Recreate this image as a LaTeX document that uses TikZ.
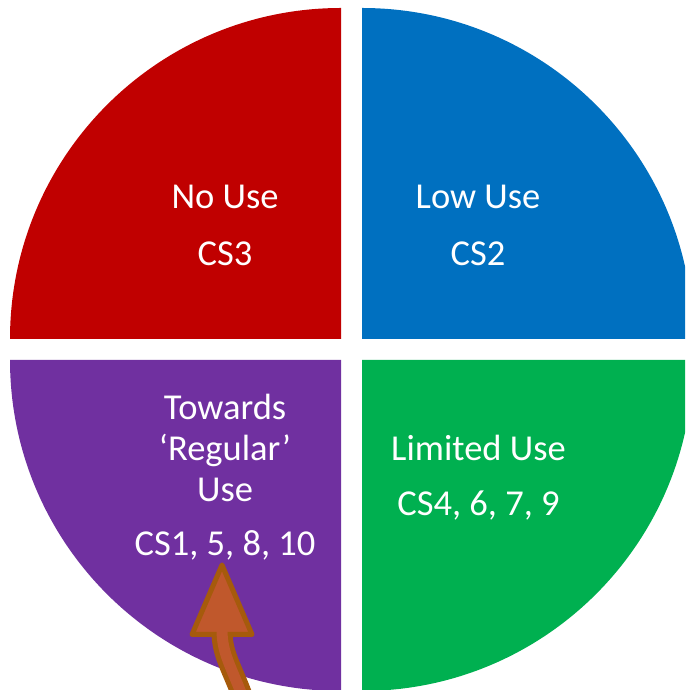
\documentclass[tikz,border=0pt]{standalone}
\usepackage{fontspec}
\setmainfont{Carlito}
\usepackage{xcolor}
\definecolor{noUseRed}{HTML}{C00000}
\definecolor{lowUseBlue}{HTML}{0070C0}
\definecolor{regularPurple}{HTML}{7030A0}
\definecolor{limitedGreen}{HTML}{00B050}
\definecolor{arrowLine}{HTML}{A65A0C}
\definecolor{arrowFill}{HTML}{C0582C}

\begin{document}
\begin{tikzpicture}[x=1pt,y=1pt,
      label/.style={text=white,font=\fontsize{36.5}{41}\selectfont,align=center,anchor=base,inner sep=0pt}]
      \useasboundingbox (0,0) rectangle (685,690);
      \clip (0,0) rectangle (685,690);
      % the four quarters
      \fill[noUseRed] (341,351) -- ++(-331,0) arc[start angle=180,end angle=90,radius=331] -- cycle;
      \fill[lowUseBlue] (362,351) -- ++(0,331) arc[start angle=90,end angle=0,radius=331] -- cycle;
      \fill[regularPurple] (341,330) -- ++(0,-331) arc[start angle=270,end angle=180,radius=331] -- cycle;
      \fill[limitedGreen] (362,330) -- ++(331,0) arc[start angle=0,end angle=-90,radius=331] -- cycle;
      % labels
      \node[label] (NoUse) at (225,481) {No Use};
      \node[label] (CSThree) at (225,424) {CS3};
      \node[label] (LowUse) at (478,481) {Low Use};
      \node[label] (CSTwo) at (478,424) {CS2};
      \node[label] (Regular) at (225,188.5) {Towards\\‘Regular’\\Use};
      \node[label] (CSRegular) at (225,134) {CS1, 5, 8, 10};
      \node[label] (Limited) at (478.5,229.5) {Limited Use};
      \node[label] (CSLimited) at (478.5,174.5) {CS4, 6, 7, 9};
      % arrow up to the case studies
      \coordinate (Tail) at (243,-8);
      \coordinate (Base) at (222,58);
      \coordinate (Tip) at (222,125);
      \draw[arrowLine,line width=21] (Tail) .. controls (232,22) and (222,36) .. (Base);
      \filldraw[fill=arrowFill,draw=arrowLine,line width=5,line join=round]
        (Base) ++(-30,-2.5) -- (Tip) -- ([xshift=30,yshift=-2.5]Base) -- cycle;
      \draw[arrowFill,line width=11] (Tail) .. controls (232,22) and (222,36) .. ([yshift=2]Base);
\end{tikzpicture}
\end{document}
